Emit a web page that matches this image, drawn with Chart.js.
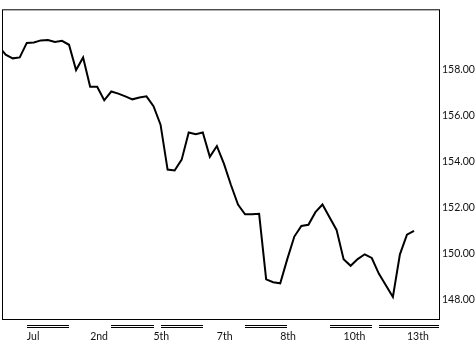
<!DOCTYPE html>
<html>
<head>
<meta charset="utf-8">
<script src="https://cdn.jsdelivr.net/npm/chart.js@4.4.0/dist/chart.umd.min.js"></script>
<style>
    html, body { margin: 0; padding: 0; background: #fff; }
    #wrap { width: 476px; height: 342px; }
</style>
</head>
<body>
<div id="wrap"><canvas id="chartPrecio"></canvas></div>
<script>
// valores
const precios = [
    159.00, 158.63, 158.47, 158.51, 159.14, 159.16, 159.25, 159.27, 159.18, 159.23,
    159.06, 157.96, 158.51, 157.24, 157.24, 156.65, 157.03, 156.94, 156.82, 156.69,
    156.77, 156.82, 156.39, 155.59, 153.64, 153.60, 154.07, 155.25, 155.17, 155.25,
    154.19, 154.66, 153.90, 152.97, 152.12, 151.70, 151.70, 151.72, 148.87, 148.75,
    148.70, 149.75, 150.73, 151.19, 151.24, 151.79, 152.12, 151.57, 151.02, 149.75,
    149.46, 149.75, 149.96, 149.80, 149.12, 148.62, 148.11, 149.96, 150.81, 150.98
];
const xTicks = [4, 13, 22, 31, 40, 49, 58];
const xLabels = ['Jul', '2nd', '5th', '7th', '8th', '10th', '13th'];
const yTicks = [148, 150, 152, 154, 156, 158];
// tramos con doble raya bajo el eje (indices de inicio y fin)
const tramos = [[4, 10], [16, 22], [23, 29], [35, 41], [47, 53], [54, 62.5]];

const fuente = { family: 'Lato', size: 10.5 };

const marco = {
    id: 'marco',
    afterDraw(chart) {
        const { ctx, chartArea } = chart;
        const xs = chart.scales.x;
        ctx.save();
        ctx.strokeStyle = '#000';
        ctx.lineWidth = 1;
        ctx.strokeRect(chartArea.left + 0.5, chartArea.top + 0.5,
            chartArea.right - chartArea.left, chartArea.bottom - chartArea.top);
        ctx.fillStyle = '#000';
        tramos.forEach(([a, b]) => {
            const x1 = Math.round(xs.getPixelForValue(a));
            const x2 = Math.round(Math.min(xs.getPixelForValue(b), chartArea.right));
            ctx.fillRect(x1, chartArea.bottom + 6, x2 - x1, 1);
            ctx.fillRect(x1, chartArea.bottom + 8, x2 - x1, 1);
        });
        ctx.restore();
    }
};

const chartPrecio = new Chart(document.getElementById('chartPrecio').getContext('2d'), {
    type: 'line',
    data: {
        datasets: [
            {
                data: precios.map((p, i) => ({ x: i, y: p })),
                borderColor: '#000',
                borderWidth: 2,
                pointRadius: 0,
                tension: 0,
                fill: false
            }
        ]
    },
    options: {
        responsive: true,
        maintainAspectRatio: false,
        animation: false,
        layout: { padding: { left: 2, top: 1, right: 0, bottom: 0 } },
        plugins: {
            legend: { display: false },
            tooltip: { enabled: false }
        },
        scales: {
            x: {
                type: 'linear',
                min: 0.48,
                max: 62.55,
                grid: { display: false, drawTicks: false },
                border: { display: false },
                afterBuildTicks: (scale) => {
                    scale.ticks = xTicks.map(v => ({ value: v }));
                },
                afterFit: (scale) => { scale.height = 23; },
                ticks: {
                    align: 'start',
                    maxRotation: 0,
                    autoSkip: false,
                    padding: 11,
                    color: '#111',
                    font: fuente,
                    callback: (v) => xLabels[xTicks.indexOf(v)]
                }
            },
            y: {
                position: 'right',
                min: 147.15,
                max: 160.6,
                grid: { display: false, drawTicks: false },
                border: { display: false },
                afterBuildTicks: (scale) => {
                    scale.ticks = yTicks.map(v => ({ value: v }));
                },
                afterFit: (scale) => { scale.width = 37; },
                ticks: {
                    padding: 3,
                    color: '#111',
                    font: fuente,
                    callback: (v) => v.toFixed(2)
                }
            }
        }
    },
    plugins: [marco]
});
</script>
</body>
</html>
